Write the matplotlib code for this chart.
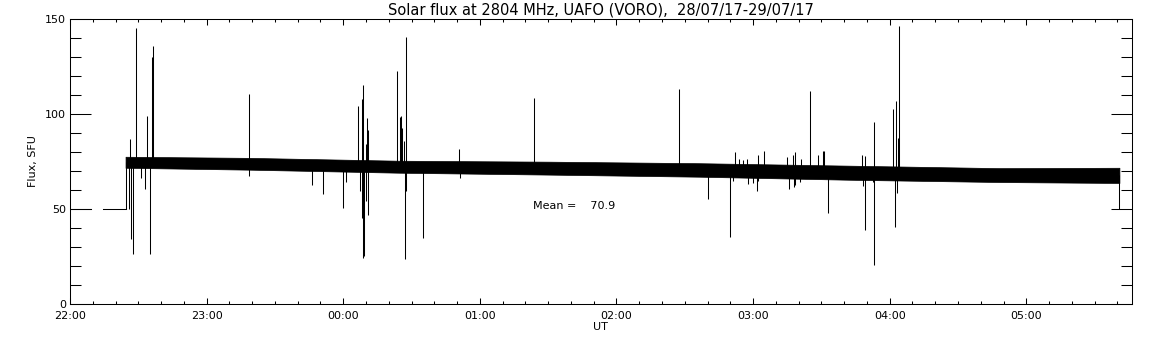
import numpy as np
import matplotlib
matplotlib.use("Agg")
import matplotlib.pyplot as plt
import matplotlib.dates as mdates
from matplotlib.ticker import MultipleLocator
from datetime import datetime, timedelta

# Times are minutes after 28/07/17 22:00 UT
T0 = datetime(2017, 7, 28, 22, 0)
T_END_MIN = 466.3

# flat 50 SFU stretch before the receiver comes up (NaN = gap)
flat_min = [0.0, 9.2, np.nan, 14.5, 24.4]
flat_val = [50, 50, np.nan, 50, 50]

# envelope of the noisy quiet-sun band
band_min = [24.4, 79.0, 144.8, 210.7, 276.5, 342.4, 408.2, 460.9]
band_hi = [77.5, 76.9, 75.4, 74.9, 74.1, 72.8, 71.5, 71.7]
band_lo = [71.7, 70.7, 69.1, 68.1, 67.0, 65.4, 64.2, 63.7]

# individual spikes (time, peak value)
spike_min = [
    24.4, 25.7, 26.5, 26.9, 27.8, 29.1, 31.4, 33.1, 33.9, 35.3, 35.9, 36.3,
    78.6, 78.6, 106.4, 111.2, 120.0, 121.3, 126.5, 127.4, 128.2, 128.3,
    128.7, 128.7, 129.2, 130.1, 130.1, 130.5, 130.9, 130.9,
    143.7, 145.0, 145.3, 145.9, 146.7, 147.2, 147.6, 147.6, 155.1,
    170.9, 171.3, 203.8, 267.4, 280.2, 289.8, 292.0, 297.6, 301.7, 302.1,
    304.7, 314.8, 315.7, 317.9, 318.4, 324.9, 328.5, 330.6, 332.8,
    347.9, 348.2, 349.1, 353.0, 353.0, 361.4, 362.3, 362.9, 363.1, 363.7,
    364.0, 460.9,
    # small fuzz around 02:50-03:30
    291.3, 294.0, 295.4, 297.2, 300.1, 302.2, 317.4, 318.4, 320.6, 320.9,
    331.2, 349.2, 352.8,
]
spike_val = [
    50, 50, 87.0, 34.2, 26.3, 145.3, 66.3, 60.4, 98.7, 26.1, 129.8, 135.9,
    110.7, 67.2, 62.4, 57.7, 50.5, 64.2, 104.4, 59.3, 107.9, 45.3,
    115.4, 24.2, 25.1, 84.4, 54.0, 97.9, 91.7, 46.6,
    122.8, 98.4, 99.1, 92.6, 85.9, 23.8, 140.7, 59.6, 34.7,
    81.7, 66.3, 108.6, 113.3, 55.3, 35.1, 79.8, 63.2, 59.3, 78.6,
    80.7, 77.4, 60.5, 61.6, 80.2, 112.3, 78.6, 80.7, 47.7,
    78.6, 61.9, 38.7, 95.6, 20.5, 102.8, 40.3, 107.0, 58.4, 87.4,
    146.5, 50,
    64.5, 76.3, 76.0, 76.5, 63.7, 64.5, 78.6, 62.8, 64.0, 76.5,
    80.3, 77.7, 64.0,
]

MEAN_FLUX = 70.9


def to_dates(minutes):
    return [T0 + timedelta(minutes=float(m)) if np.isfinite(m) else T0 for m in minutes]


def main():
    plt.rcParams.update({
        "font.family": "DejaVu Sans",
        "font.size": 8,
        "axes.linewidth": 0.75,
    })

    fig = plt.figure(figsize=(11.52, 3.45), dpi=100)
    ax = fig.add_axes([70 / 1152, 41 / 345, (1131.7 - 70) / 1152, (304.3 - 19.3) / 345])

    fmin = np.array(flat_min)
    fdates = mdates.date2num(to_dates(fmin))
    fdates[~np.isfinite(fmin)] = np.nan
    ax.plot(fdates, flat_val, color="black", lw=0.75)

    bdates = mdates.date2num(to_dates(band_min))
    ax.fill_between(bdates, band_lo, band_hi, color="black", lw=0.5)

    # spikes drawn from the middle of the band out to their peak
    sdates = mdates.date2num(to_dates(spike_min))
    band_mid = (np.array(band_hi) + np.array(band_lo)) / 2
    base = np.interp(sdates, bdates, band_mid)
    ax.vlines(sdates, base, spike_val, color="black", lw=0.75)

    ax.text(mdates.date2num(T0 + timedelta(minutes=203.3)), 51.7,
            f"Mean =    {MEAN_FLUX:.1f}", ha="left", va="center", fontsize=8)

    ax.set_xlim(T0, T0 + timedelta(minutes=T_END_MIN))
    ax.set_ylim(0, 150)

    ax.xaxis.set_major_locator(mdates.HourLocator())
    ax.xaxis.set_minor_locator(mdates.MinuteLocator(byminute=range(0, 60, 10)))
    ax.xaxis.set_major_formatter(mdates.DateFormatter("%H:%M"))
    ax.yaxis.set_major_locator(MultipleLocator(50))
    ax.yaxis.set_minor_locator(MultipleLocator(10))

    ax.tick_params(axis="both", which="both", direction="in", top=True, right=True,
                   width=0.75, labelsize=8)
    ax.tick_params(axis="x", which="major", length=4.3, pad=5)
    ax.tick_params(axis="x", which="minor", length=2.5)
    ax.tick_params(axis="y", which="major", length=14.9, pad=3)
    ax.tick_params(axis="y", which="minor", length=7.9)

    ax.set_title("Solar flux at 2804 MHz, UAFO (VORO),  28/07/17-29/07/17",
                 fontsize=10.5, pad=3)
    ax.set_xlabel("UT", fontsize=8, labelpad=1)
    ax.set_ylabel("Flux, SFU", fontsize=8, labelpad=5)

    fig.savefig("out.png", dpi=100, facecolor="white")
    plt.close(fig)


if __name__ == "__main__":
    main()
